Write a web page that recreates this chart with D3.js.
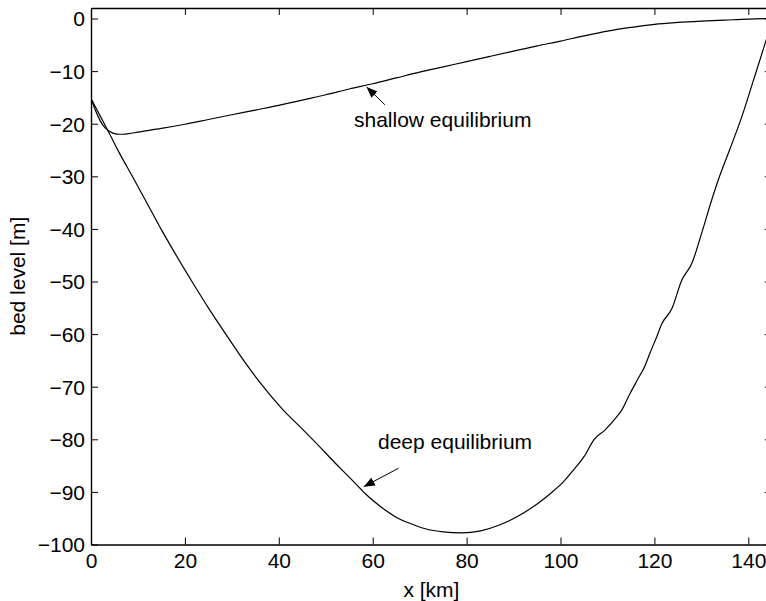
<!DOCTYPE html>
<html>
<head>
<meta charset="utf-8">
<script src="https://cdn.jsdelivr.net/npm/d3@7"></script>
<style>
  html, body { margin: 0; padding: 0; background: #fff; }
  svg { display: block; }
  text { font-family: "Liberation Sans", Arial, Helvetica, sans-serif; fill: #000; }
</style>
</head>
<body>
<svg id="chart" width="766" height="601"></svg>
<script>
// values (x in km, bed level in m)
const xTicks = [0, 20, 40, 60, 80, 100, 120, 140];
const yTicks = [0, -10, -20, -30, -40, -50, -60, -70, -80, -90, -100];

const shallowX = [0, 1, 2, 3, 4, 5, 6, 7, 8, 10, 15, 20, 25, 30, 35, 40, 45, 50, 55, 60, 65, 70, 75, 80, 85, 90, 95, 100, 105, 110, 115, 120, 125, 130, 135, 140, 145];
const shallowY = [-15.2, -17.6, -19.5, -20.8, -21.5, -21.9, -22.0, -22.0, -21.9, -21.6, -20.9, -20.1, -19.2, -18.3, -17.4, -16.5, -15.5, -14.5, -13.4, -12.4, -11.3, -10.2, -9.2, -8.2, -7.2, -6.2, -5.2, -4.3, -3.3, -2.4, -1.7, -1.1, -0.75, -0.5, -0.3, -0.1, 0];

const deepX = [0, 2, 4, 6, 8.8, 12, 14.9, 18, 21.5, 25, 28.7, 32.5, 36.7, 41, 44.5, 45.5, 47.7, 52, 55, 57.6, 58.5, 62, 65, 68, 72, 75, 79, 83, 87, 91, 95.6, 98, 100.6, 102.8, 105, 107.1, 109.5, 112, 113, 114.8, 116.5, 118, 119.1, 120.5, 121.6, 123.7, 125.8, 128, 130, 132.2, 133.6, 136, 138.6, 141, 143.8, 145];
const deepY = [-15.2, -18.6, -22, -25.5, -30, -35.2, -40, -44.8, -50, -55, -60, -65, -70, -74.5, -77.6, -78.5, -80.5, -84.5, -87.2, -89.6, -90.4, -93, -94.8, -96, -97.2, -97.6, -97.8, -97.4, -96.3, -94.6, -91.9, -90.2, -88.1, -85.8, -83.3, -80.1, -78.2, -75.7, -74.5, -71.3, -68.5, -66, -63.5, -60.5, -58, -55.2, -49.8, -46.5, -41, -34.5, -30.7, -25, -18.7, -12, -4.1, -0.6];

const notes = [
  { label: "shallow equilibrium", tail: [62.6, -16.4], tip: [58.7, -13.0], text: [354, 127] },
  { label: "deep equilibrium", tail: [65.5, -85.5], tip: [58.1, -89.0], text: [378, 449] }
];

const svg = d3.select("#chart");
const margin = { left: 91, right: 771.8, top: 8, bottom: 544.5 };

const x = d3.scaleLinear().domain([0, 145]).range([margin.left, margin.right]);
const y = d3.scaleLinear().domain([-100, 2]).range([margin.bottom, margin.top]);

const defs = svg.append("defs");
defs.append("clipPath").attr("id", "plot")
  .append("rect")
  .attr("x", margin.left).attr("y", margin.top)
  .attr("width", margin.right - margin.left).attr("height", margin.bottom - margin.top);

defs.append("marker")
  .attr("id", "head")
  .attr("viewBox", "0 0 10 10")
  .attr("refX", 10).attr("refY", 5)
  .attr("markerWidth", 11).attr("markerHeight", 11)
  .attr("markerUnits", "userSpaceOnUse")
  .attr("orient", "auto")
  .append("path")
  .attr("d", "M0,1 L10,5 L0,9 Z")
  .attr("fill", "#000");

const fontSize = 21;

// bottom axis
const gx = svg.append("g")
  .attr("transform", `translate(0,${margin.bottom})`)
  .call(d3.axisBottom(x).tickValues(xTicks).tickSize(-7).tickSizeOuter(0).tickPadding(12));
// left axis
const gy = svg.append("g")
  .attr("transform", `translate(${margin.left},0)`)
  .call(d3.axisLeft(y).tickValues(yTicks).tickSize(-7).tickSizeOuter(0).tickPadding(6));
// top + right axes without labels
const gt = svg.append("g")
  .attr("transform", `translate(0,${margin.top})`)
  .call(d3.axisTop(x).tickValues(xTicks).tickSize(-7).tickSizeOuter(0).tickFormat(""));
const gr = svg.append("g")
  .attr("transform", `translate(${margin.right},0)`)
  .call(d3.axisRight(y).tickValues(yTicks).tickSize(-7).tickSizeOuter(0).tickFormat(""));

[gx, gy, gt, gr].forEach(g => {
  g.selectAll(".domain").attr("stroke", "#000").attr("stroke-width", 1.4);
  g.selectAll(".tick line").attr("stroke", "#000").attr("stroke-width", 1);
  g.selectAll("text")
    .style("font-family", '"Liberation Sans", Arial, sans-serif')
    .style("font-size", fontSize + "px")
    .attr("fill", "#000");
});
gx.selectAll("text").attr("dy", "0.55em");
gy.selectAll("text").attr("dy", "0.35em");

// curves
const line = d3.line().x(d => x(d[0])).y(d => y(d[1])).curve(d3.curveMonotoneX);
const shallow = shallowX.map((v, i) => [v, shallowY[i]]);
const deep = deepX.map((v, i) => [v, deepY[i]]);

const curves = svg.append("g").attr("clip-path", "url(#plot)");
[shallow, deep].forEach(data => {
  curves.append("path")
    .datum(data)
    .attr("d", line)
    .attr("fill", "none")
    .attr("stroke", "#000")
    .attr("stroke-width", 1.2);
});

// annotations
notes.forEach(n => {
  svg.append("line")
    .attr("x1", x(n.tail[0])).attr("y1", y(n.tail[1]))
    .attr("x2", x(n.tip[0])).attr("y2", y(n.tip[1]))
    .attr("stroke", "#000").attr("stroke-width", 1)
    .attr("marker-end", "url(#head)");
  svg.append("text")
    .attr("x", n.text[0]).attr("y", n.text[1])
    .style("font-size", fontSize + "px")
    .text(n.label);
});

// axis labels
svg.append("text")
  .attr("x", (margin.left + margin.right) / 2).attr("y", 597)
  .attr("text-anchor", "middle")
  .style("font-size", fontSize + "px")
  .text("x [km]");

svg.append("text")
  .attr("transform", `translate(25,${(margin.top + margin.bottom) / 2}) rotate(-90)`)
  .attr("text-anchor", "middle")
  .style("font-size", fontSize + "px")
  .text("bed level [m]");
</script>
</body>
</html>
